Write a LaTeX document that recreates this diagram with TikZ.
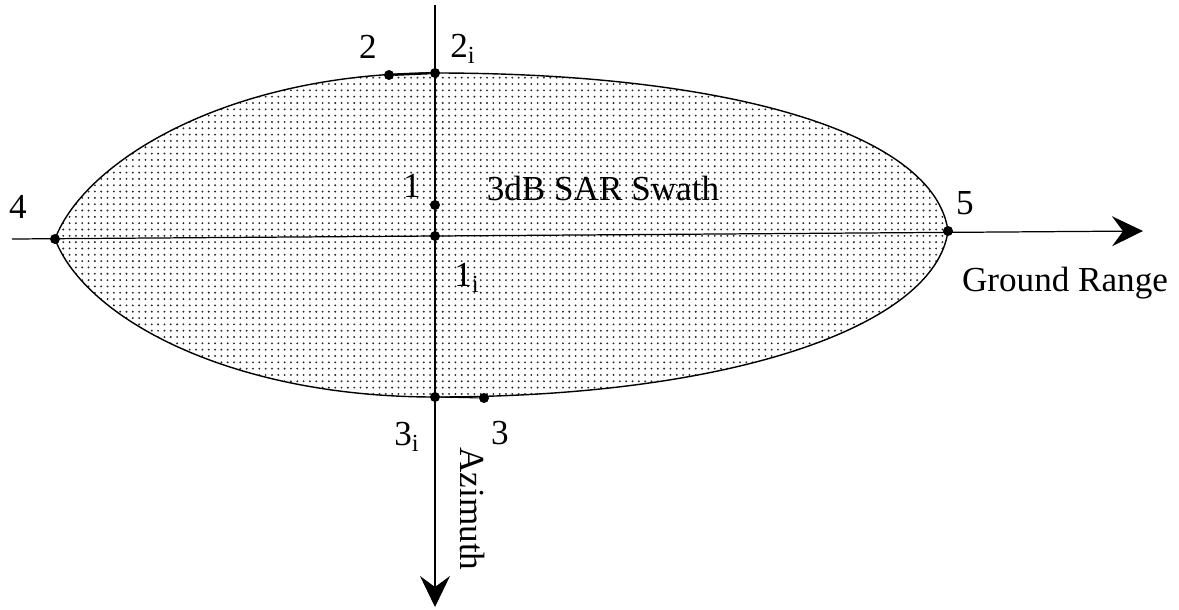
\documentclass[tikz,border=0pt]{standalone}
\usepackage{fontspec}
\setmainfont{Liberation Serif}
\usetikzlibrary{arrows.meta,patterns}
\pgfdeclarepatternformonly{sdots}{\pgfqpoint{-1pt}{-1pt}}{\pgfqpoint{1pt}{1pt}}{\pgfqpoint{3.6pt}{3.6pt}}{\pgfpathcircle{\pgfqpoint{0pt}{0pt}}{.6pt}\pgfusepath{fill}}
\begin{document}
\begin{tikzpicture}[x=0.02cm,y=-0.02cm,
  lbl/.style={font=\fontsize{20}{24}\selectfont, inner sep=0pt},
  pt/.style={circle, fill=black, inner sep=0pt, minimum size=0.2cm},
  axis/.style={line width=0.7pt, -{Stealth[length=0.62cm,width=0.6cm,inset=0.22cm]}},
  swath/.style={draw=black, line width=0.8pt, pattern=sdots, pattern color=black!85}]
\useasboundingbox (0,0) rectangle (1179,609);
% axes end points
\coordinate (hL) at (12,239);
\coordinate (hR) at (1143,231);
\coordinate (vT) at (435,5);
\coordinate (vB) at (435,607);
% swath
\path[swath] (55,239) .. controls (85,160) and (230,73) .. (435,73)
  .. controls (735,73) and (935,135) .. (948,231)
  .. controls (935,325) and (735,397) .. (435,397)
  .. controls (230,397) and (85,318) .. (55,239) -- cycle;
% axes
\draw[axis] (hL) -- (hR);
\draw[axis] (vT) -- (vB);
% points
\node[pt] (p2) at (389,75) {};
\node[pt] (p2i) at (435,73) {};
\node[pt] (p1) at (435,205) {};
\node[pt] (p1i) at (435,236) {};
\node[pt] (p3i) at (435,397) {};
\node[pt] (p3) at (484,398) {};
\node[pt] (p4) at (55,239) {};
\node[pt] (p5) at (948,231) {};
\draw[line width=1.3pt] (p2) -- (p2i);
\draw[line width=0.6pt] (p3i) -- (p3);
% labels
\node[lbl] (l2) at (368,47) {2};
\node[lbl] (l2i) at (463,49) {2\textsubscript{i}};
\node[lbl] (l1) at (412,186) {1};
\node[lbl] (l1i) at (467,278) {1\textsubscript{i}};
\node[lbl] (l3i) at (407,437) {3\textsubscript{i}};
\node[lbl] (l3) at (500,433) {3};
\node[lbl] (l4) at (18,207) {4};
\node[lbl] (l5) at (965,203) {5};
\node[lbl] (ls) at (603,188) {3dB SAR Swath};
\node[lbl] (lg) at (1065,283) {Ground Range};
\node[lbl, rotate=-90] (la) at (473,509) {Azimuth};
\end{tikzpicture}
\end{document}
